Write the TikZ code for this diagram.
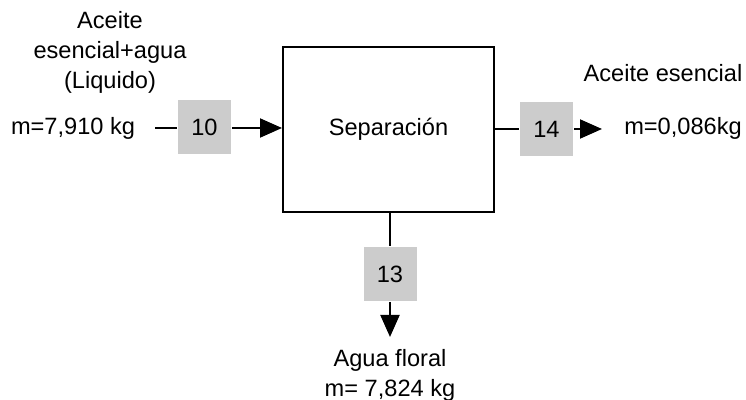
\documentclass[tikz,border=0pt]{standalone}
\usepackage{fontspec}
\setmainfont{Liberation Sans}
\usetikzlibrary{arrows.meta}
\definecolor{grisbloque}{RGB}{204,204,204}
\tikzstyle{texto}=[inner sep=0pt,font=\fontsize{11.8pt}{15pt}\selectfont,align=center]
\tikzstyle{proceso}=[draw,line width=1pt,minimum width=105.5pt,minimum height=82.5pt,texto]
\tikzstyle{corriente}=[fill=grisbloque,minimum width=26.5pt,minimum height=27pt,texto]
\tikzstyle{flecha}=[-{Triangle[length=11pt,width=9.5pt]}]

\begin{document}
\begin{tikzpicture}[x=0.5pt,y=-0.5pt,line width=1pt]
    \useasboundingbox (0,0) rectangle (746,400);
    \node [proceso] (sep) at (388.5,129.5) {Separación};
    \node [corriente] (c10) at (204.5,127) {10};
    \node [corriente] (c14) at (546.5,129) {14};
    \node [corriente] (c13) at (390,274) {13};
    % entrada
    \node [texto] (ent) at (110,52) {Aceite\\esencial+agua\\(Liquido)};
    \node [texto] (m10) at (73,128) {m=7,910 kg};
    \coordinate (i10) at (155,128);
    \draw (i10) -- (c10.west |- i10);
    \draw [flecha] (c10.east |- i10) -- (sep.west |- i10);
    % salida aceite
    \node [texto] (sal14) at (663,73) {Aceite esencial};
    \node [texto] (m14) at (683,128) {m=0,086kg};
    \coordinate (f14) at (602,129);
    \draw (sep.east |- f14) -- (c14.west |- f14);
    \draw [flecha] (c14.east |- f14) -- (f14);
    % salida agua
    \node [texto] (sal13) at (390,375) {Agua floral\\m= 7,824 kg};
    \coordinate (f13) at (390,337);
    \draw (sep.south -| f13) -- (c13.north);
    \draw [flecha] (c13.south) -- (f13);
\end{tikzpicture}
\end{document}
